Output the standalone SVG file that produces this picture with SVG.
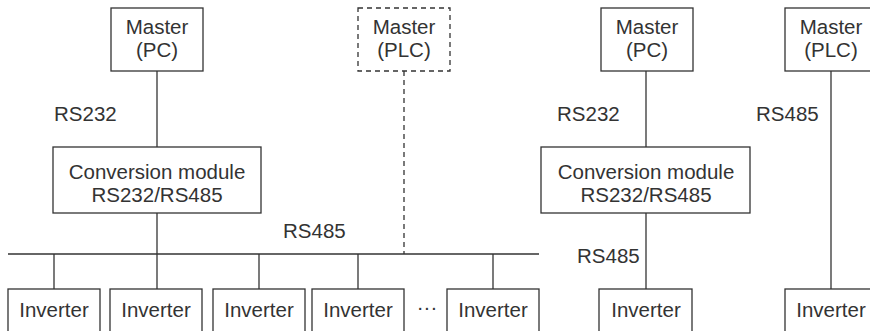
<svg xmlns="http://www.w3.org/2000/svg" width="870" height="331" viewBox="0 0 870 331">
<style>
.box{fill:#fff;stroke:#333;stroke-width:1.3}
.dash{stroke-dasharray:5 4}
.ln{stroke:#333;stroke-width:1.3;fill:none}
text{font-family:"Liberation Sans",Arial,sans-serif;font-size:20.5px;fill:#333}
.c{text-anchor:middle}
</style>
<g id="connectors">
<line class="ln" x1="157" y1="71" x2="157" y2="147"/>
<line class="ln" x1="157" y1="213" x2="157" y2="289"/>
<line class="ln dash" x1="404" y1="71" x2="404" y2="254"/>
<line class="ln" x1="8" y1="254" x2="539" y2="254"/>
<line class="ln" x1="54" y1="254" x2="54" y2="289"/>
<line class="ln" x1="259" y1="254" x2="259" y2="289"/>
<line class="ln" x1="358" y1="254" x2="358" y2="289"/>
<line class="ln" x1="493" y1="254" x2="493" y2="289"/>
<line class="ln" x1="646" y1="71" x2="646" y2="147"/>
<line class="ln" x1="646" y1="213" x2="646" y2="289"/>
<line class="ln" x1="831" y1="71" x2="831" y2="289"/>
</g>
<g id="labels">
<text x="54" y="121">RS232</text>
<text x="283" y="238">RS485</text>
<text x="557" y="121">RS232</text>
<text x="756" y="121">RS485</text>
<text x="577" y="263">RS485</text>
<text class="c" x="427" y="314">···</text>
</g>
<g id="master-pc-1"><rect class="box" x="111" y="8" width="92" height="63"/><text class="c" x="157" y="34">Master</text><text class="c" x="157" y="57">(PC)</text></g>
<g id="master-plc-1"><rect class="box dash" x="358" y="8" width="92" height="63"/><text class="c" x="404" y="34">Master</text><text class="c" x="404" y="57">(PLC)</text></g>
<g id="conv-1"><rect class="box" x="53" y="147" width="208" height="66"/><text class="c" x="157" y="179">Conversion module</text><text class="c" x="157" y="202">RS232/RS485</text></g>
<g id="inv-1"><rect class="box" x="8" y="289" width="92" height="60"/><text class="c" x="54" y="317">Inverter</text></g>
<g id="inv-2"><rect class="box" x="110" y="289" width="92" height="60"/><text class="c" x="156" y="317">Inverter</text></g>
<g id="inv-3"><rect class="box" x="213" y="289" width="92" height="60"/><text class="c" x="259" y="317">Inverter</text></g>
<g id="inv-4"><rect class="box" x="312" y="289" width="92" height="60"/><text class="c" x="358" y="317">Inverter</text></g>
<g id="inv-5"><rect class="box" x="447" y="289" width="92" height="60"/><text class="c" x="493" y="317">Inverter</text></g>
<g id="master-pc-2"><rect class="box" x="601" y="8" width="92" height="63"/><text class="c" x="647" y="34">Master</text><text class="c" x="647" y="57">(PC)</text></g>
<g id="conv-2"><rect class="box" x="541" y="147" width="209" height="66"/><text class="c" x="646" y="179">Conversion module</text><text class="c" x="646" y="202">RS232/RS485</text></g>
<g id="inv-6"><rect class="box" x="599" y="289" width="93" height="60"/><text class="c" x="646" y="317">Inverter</text></g>
<g id="master-plc-2"><rect class="box" x="785" y="8" width="92" height="63"/><text class="c" x="831" y="34">Master</text><text class="c" x="831" y="57">(PLC)</text></g>
<g id="inv-7"><rect class="box" x="785" y="289" width="92" height="60"/><text class="c" x="831" y="317">Inverter</text></g>
</svg>
